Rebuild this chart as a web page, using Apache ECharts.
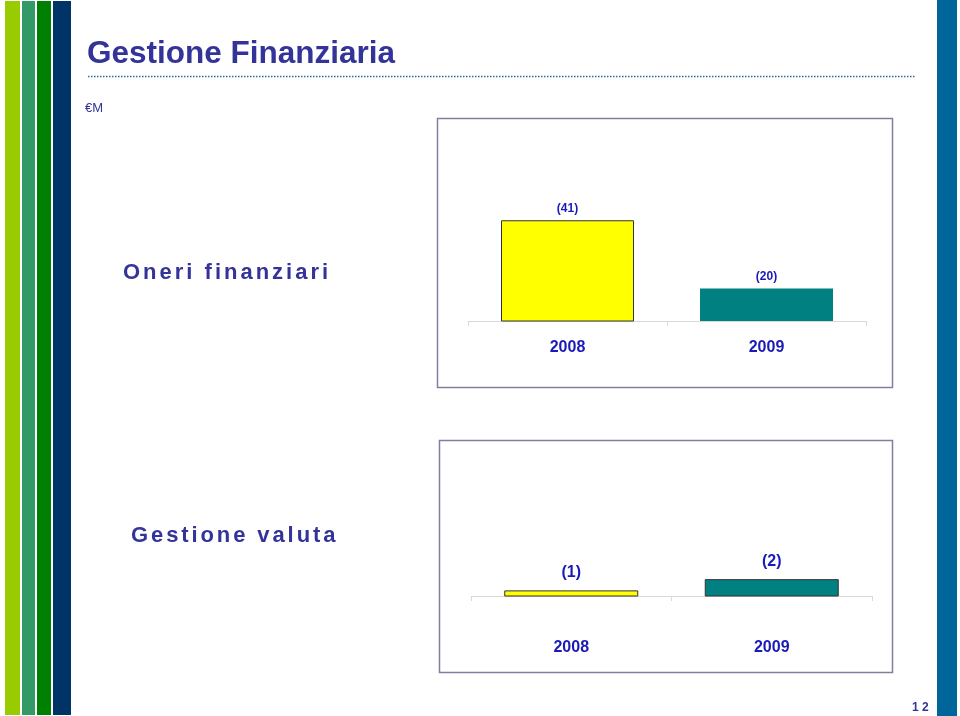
<!DOCTYPE html>
<html><head><meta charset="utf-8">
<script src="https://cdn.jsdelivr.net/npm/echarts@6/dist/echarts.min.js"></script>
<style>
html,body{margin:0;padding:0;background:#fff;}
#wrap{position:relative;width:960px;height:716px;}
#chart{position:absolute;left:0;top:0;width:960px;height:716px;}
.lbl{position:absolute;font-family:Arial,"Liberation Sans",sans-serif;font-weight:bold;color:#333399;font-size:22px;letter-spacing:3px;white-space:nowrap;}
</style></head>
<body><div id="wrap"><div id="chart"></div>
<div class="lbl" style="left:123px;top:259px;">Oneri finanziari</div>
<div class="lbl" style="left:131px;top:522px;letter-spacing:2.9px;">Gestione valuta</div>
</div>
<script>
var categories = ['2008', '2009'];
var oneriValues = [41, 20];
var valutaValues = [1, 2];
var barColors = ['#ffff00', '#008080'];

var chart = echarts.init(document.getElementById('chart'), null, {renderer: 'canvas'});
var blue = '#1a1ab8';
var font = 'Arial, "Liberation Sans", sans-serif';

function xAxis(gridIndex, margin) {
  return {
    type: 'category', gridIndex: gridIndex, data: categories,
    axisLine: {lineStyle: {color: '#d9d9d9', width: 1}},
    axisTick: {show: true, length: 5, lineStyle: {color: '#d9d9d9'}},
    axisLabel: {color: blue, fontWeight: 'bold', fontSize: 16, fontFamily: font, margin: margin}
  };
}
function yAxis(gridIndex, min, max) {
  return {type: 'value', gridIndex: gridIndex, min: min, max: max, show: false, splitLine: {show: false}};
}
function barData(values, borders) {
  return values.map(function (v, i) {
    return {value: v, itemStyle: {color: barColors[i], borderColor: borders[i] ? '#333333' : 'transparent', borderWidth: borders[i] ? 1 : 0}};
  });
}

var option = {
  animation: false,
  title: [
    {text: 'Gestione Finanziaria', left: 87, top: 38, padding: 0, textStyle: {color: '#333399', fontSize: 31.5, fontWeight: 'bold', fontFamily: font}},
    {text: '€M', left: 85, top: 102, padding: 0, textStyle: {color: '#333399', fontSize: 13, fontWeight: 'normal', fontFamily: font}},
    {text: '1 2', left: 912, top: 702, padding: 0, textStyle: {color: '#333399', fontSize: 12, fontWeight: 'bold', fontFamily: font}}
  ],
  graphic: [
    {type: 'rect', shape: {x: 5, y: 1, width: 15, height: 714}, style: {fill: '#99cc00'}},
    {type: 'rect', shape: {x: 22, y: 1, width: 13, height: 714}, style: {fill: '#339966'}},
    {type: 'rect', shape: {x: 37, y: 1, width: 14, height: 714}, style: {fill: '#008000'}},
    {type: 'rect', shape: {x: 53, y: 1, width: 18, height: 714}, style: {fill: '#003366'}},
    {type: 'rect', shape: {x: 937, y: 0, width: 20, height: 716}, style: {fill: '#006699'}},
    {type: 'line', shape: {x1: 88, y1: 76.5, x2: 915, y2: 76.5}, style: {stroke: '#336699', lineWidth: 1.5, lineDash: [1.5, 1.5]}},
    {type: 'rect', shape: {x: 437.5, y: 118.5, width: 455, height: 269}, style: {fill: 'none', stroke: '#7f7f9f', lineWidth: 1.5}},
    {type: 'rect', shape: {x: 439.5, y: 440.5, width: 453, height: 232}, style: {fill: 'none', stroke: '#7f7f9f', lineWidth: 1.5}}
  ],
  grid: [
    {left: 468, width: 398, top: 191, height: 130},
    {left: 471, width: 401, top: 551, height: 45}
  ],
  xAxis: [xAxis(0, 19), xAxis(1, 44)],
  yAxis: [yAxis(0, 10, 50), yAxis(1, 0.5, 4.5)],
  series: [
    {
      type: 'bar', xAxisIndex: 0, yAxisIndex: 0, barWidth: 133,
      data: barData(oneriValues, [true, false]),
      label: {show: true, position: 'top', distance: 6, color: blue, fontWeight: 'bold', fontSize: 12, fontFamily: font,
        formatter: function (p) { return '(' + p.value + ')'; }}
    },
    {
      type: 'bar', xAxisIndex: 1, yAxisIndex: 1, barWidth: 134,
      data: barData(valutaValues, [true, true]),
      label: {show: true, position: 'top', distance: 10, color: blue, fontWeight: 'bold', fontSize: 16, fontFamily: font,
        formatter: function (p) { return '(' + p.value + ')'; }}
    }
  ]
};
chart.setOption(option);
</script></body></html>
